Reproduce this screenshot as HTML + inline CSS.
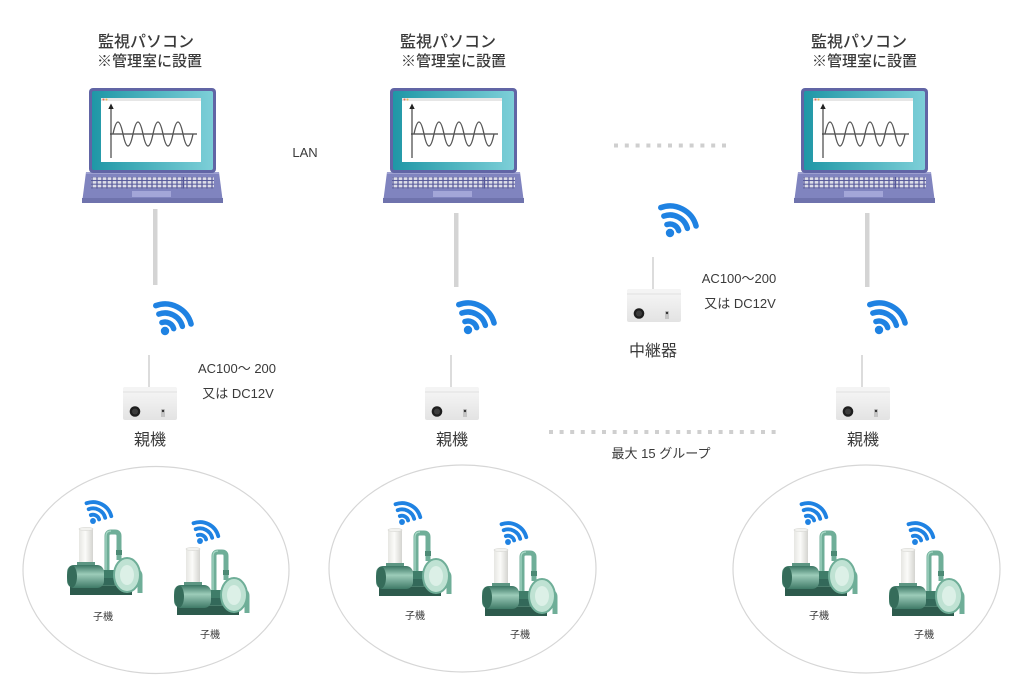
<!DOCTYPE html>
<html><head><meta charset="utf-8"><style>
html,body{margin:0;padding:0;background:#fff;}
svg{display:block;}
text{font-family:"Liberation Sans","Noto Sans CJK JP",sans-serif;fill:#3a3a3a;}
</style></head><body>
<svg width="1024" height="683" viewBox="0 0 1024 683" xmlns="http://www.w3.org/2000/svg">
<defs>
  <linearGradient id="teal" x1="0" y1="0" x2="1" y2="0">
    <stop offset="0" stop-color="#1f97a6"/><stop offset="1" stop-color="#7dcfd8"/>
  </linearGradient>
  <linearGradient id="cyl" x1="0" y1="0" x2="1" y2="0">
    <stop offset="0" stop-color="#e6e6e2"/><stop offset="0.45" stop-color="#fbfbf9"/><stop offset="1" stop-color="#d4d4d0"/>
  </linearGradient>
  <linearGradient id="motor" x1="0" y1="0" x2="0" y2="1">
    <stop offset="0" stop-color="#3a7563"/><stop offset="0.4" stop-color="#9cccb9"/><stop offset="1" stop-color="#3f7a67"/>
  </linearGradient>
  <linearGradient id="box" x1="0" y1="0" x2="0" y2="1">
    <stop offset="0" stop-color="#f7f7f7"/><stop offset="1" stop-color="#e3e3e3"/>
  </linearGradient>
  <pattern id="keys" x="0" y="0" width="5" height="3.7" patternUnits="userSpaceOnUse">
    <rect x="0.6" y="0.5" width="3.8" height="2.7" fill="#dcdde8"/>
  </pattern>

  <g id="wifi" fill="none" stroke="#1f82e2" stroke-width="5.5" stroke-linecap="round">
    <path d="M-3.08 -8.46 A9 9 0 0 1 8.69 -2.33"/>
    <path d="M-6.16 -16.91 A18 18 0 0 1 17.39 -4.66"/>
    <path d="M-9.23 -25.37 A27 27 0 0 1 26.08 -6.99"/>
    <circle cx="0" cy="0" r="4.2" fill="#1f82e2" stroke="none"/>
  </g>

  <g id="laptop">
    <polygon points="4,84 137,84 141,115 0,115" fill="#8084bf"/>
    <rect x="0" y="110" width="141" height="5" fill="#6f73ad"/>
    <rect x="4" y="84" width="133" height="2" fill="#9da0d0"/>
    <rect x="9" y="89" width="123" height="11.5" fill="#55589a"/>
    <rect x="9" y="89" width="123" height="11.5" fill="url(#keys)"/>
    <rect x="101" y="89" width="1.2" height="11.5" fill="#55589a"/>
    <rect x="50" y="103" width="39" height="6" fill="#a3a6d8"/>
    <rect x="7" y="0" width="127" height="85" rx="4" fill="#6165a5"/>
    <rect x="10" y="3" width="121" height="79" rx="2" fill="url(#teal)"/>
    <rect x="19" y="10" width="100" height="64" fill="#ffffff"/>
    <rect x="19" y="10" width="100" height="3" fill="#e6e6e6"/>
    <circle cx="21.5" cy="11.5" r="1" fill="#e86a5a"/>
    <circle cx="24.5" cy="11.5" r="1" fill="#f0b64a"/>
    <line x1="29" y1="20" x2="29" y2="70" stroke="#444" stroke-width="1.2"/>
    <polygon points="29,15.5 26.3,21 31.7,21" fill="#222"/>
    <line x1="28" y1="46" x2="115" y2="46" stroke="#444" stroke-width="1.2"/>
    <path d="M31 46 q5 -24 10 0 t10 0 t10 0 t10 0 t10 0 t10 0 t10 0 t10 0" fill="none" stroke="#555" stroke-width="1.3"/>
  </g>

  <g id="dev">
    <line x1="26" y1="-32" x2="26" y2="0" stroke="#dcdcdc" stroke-width="2"/>
    <rect x="0" y="0" width="54" height="33" rx="2" fill="url(#box)"/>
    <rect x="0" y="0" width="54" height="5" rx="2" fill="#f4f4f4"/>
    <line x1="0" y1="5" x2="54" y2="5" stroke="#e0e0e0" stroke-width="1"/>
    <circle cx="12" cy="24.5" r="5.3" fill="#1e1e1e"/>
    <circle cx="12" cy="24.5" r="3" fill="#3c3c3c"/>
    <rect x="38" y="22" width="4" height="8" fill="#c4c4c4"/>
    <circle cx="40" cy="24" r="1.2" fill="#333"/>
  </g>

  <g id="pump">
    <rect x="-8" y="56" width="62" height="11" fill="#2d5b4d"/>
    <rect x="-6" y="54" width="58" height="4" fill="#4a7d6c"/>
    <rect x="22" y="42" width="14" height="15" fill="#33695a"/>
    <path d="M29 44 V8 Q29 4 33 4 H37 Q41 4 41 8 V32" fill="none" stroke="#6fae98" stroke-width="5"/>
    <path d="M28 44 V8 Q28 3 33 3" fill="none" stroke="#a8d8c6" stroke-width="1.2"/>
    <rect x="38" y="22" width="6" height="5" fill="#4d8a75"/>
    <path d="M62 65 V48 Q62 43 57 43 H54" fill="none" stroke="#6fae98" stroke-width="5"/>
    <rect x="24" y="42" width="16" height="8" fill="#3f7d69"/>
    <ellipse cx="49" cy="47" rx="13" ry="17" fill="#bfe2d3" stroke="#6fae98" stroke-width="2"/>
    <ellipse cx="49" cy="47" rx="7" ry="10" fill="#dcf0e7"/>
    <rect x="1" y="0" width="14" height="38" fill="url(#cyl)"/>
    <ellipse cx="8" cy="1" rx="7" ry="1.6" fill="#f2f2ef" stroke="#d8d8d4" stroke-width="0.6"/>
    <rect x="-1" y="34" width="18" height="6" fill="#5d9683"/>
    <rect x="-11" y="37" width="37" height="23" rx="7" fill="url(#motor)"/>
    <ellipse cx="-6" cy="48.5" rx="5" ry="11" fill="#356c5a"/>
    <use href="#wifi" transform="translate(15,-7) scale(0.7)"/>
  </g>
</defs>

<!-- titles -->
<text x="98" y="47" font-size="16" font-weight="500">監視パソコン</text>
<text x="97" y="66" font-size="15" font-weight="500">※管理室に設置</text>
<text x="400" y="47" font-size="16" font-weight="500">監視パソコン</text>
<text x="401" y="66" font-size="15" font-weight="500">※管理室に設置</text>
<text x="811" y="47" font-size="16" font-weight="500">監視パソコン</text>
<text x="812" y="66" font-size="15" font-weight="500">※管理室に設置</text>

<!-- laptops -->
<use href="#laptop" transform="translate(82,88)"/>
<use href="#laptop" transform="translate(383,88)"/>
<use href="#laptop" transform="translate(794,88)"/>

<text x="305" y="157" font-size="13" text-anchor="middle">LAN</text>

<!-- dotted lines -->
<line x1="614" y1="145.5" x2="726" y2="145.5" stroke="#cfcfcf" stroke-width="4" stroke-dasharray="4 6.8"/>
<line x1="549" y1="432" x2="776" y2="432" stroke="#cfcfcf" stroke-width="4" stroke-dasharray="4 6.6"/>

<!-- vertical lines -->
<rect x="153" y="209" width="4.5" height="76" fill="#d4d4d4"/>
<rect x="454" y="213" width="4.5" height="74" fill="#d4d4d4"/>
<rect x="865" y="213" width="4.5" height="74" fill="#d4d4d4"/>

<!-- wifi -->
<use href="#wifi" transform="translate(165,331)"/>
<use href="#wifi" transform="translate(468,330)"/>
<use href="#wifi" transform="translate(879,330)"/>
<use href="#wifi" transform="translate(670,233)"/>

<!-- devices -->
<use href="#dev" transform="translate(123,387)"/>
<use href="#dev" transform="translate(425,387)"/>
<use href="#dev" transform="translate(836,387)"/>
<use href="#dev" transform="translate(627,289)"/>

<text x="150" y="445" font-size="16" text-anchor="middle">親機</text>
<text x="452" y="445" font-size="16" text-anchor="middle">親機</text>
<text x="863" y="445" font-size="16" text-anchor="middle">親機</text>
<text x="653" y="356" font-size="16" text-anchor="middle">中継器</text>

<text x="237" y="373" font-size="13" text-anchor="middle">AC100〜 200</text>
<text x="238" y="398" font-size="13" text-anchor="middle">又は DC12V</text>
<text x="739" y="283" font-size="13" text-anchor="middle">AC100〜200</text>
<text x="740" y="308" font-size="13" text-anchor="middle">又は DC12V</text>

<text x="661" y="458" font-size="13" text-anchor="middle">最大 15 グループ</text>

<!-- ellipses -->
<ellipse cx="156" cy="570" rx="133" ry="103.5" fill="none" stroke="#d6d6d6" stroke-width="1.2"/>
<ellipse cx="462.5" cy="568.5" rx="133.5" ry="103.5" fill="none" stroke="#d6d6d6" stroke-width="1.2"/>
<ellipse cx="866.5" cy="569" rx="133.5" ry="104" fill="none" stroke="#d6d6d6" stroke-width="1.2"/>

<!-- pumps -->
<use href="#pump" transform="translate(78,528)"/>
<use href="#pump" transform="translate(185,548)"/>
<use href="#pump" transform="translate(387,529)"/>
<use href="#pump" transform="translate(493,549)"/>
<use href="#pump" transform="translate(793,529)"/>
<use href="#pump" transform="translate(900,549)"/>

<text x="103" y="620" font-size="10" text-anchor="middle">子機</text>
<text x="210" y="638" font-size="10" text-anchor="middle">子機</text>
<text x="415" y="619" font-size="10" text-anchor="middle">子機</text>
<text x="520" y="638" font-size="10" text-anchor="middle">子機</text>
<text x="819" y="619" font-size="10" text-anchor="middle">子機</text>
<text x="924" y="638" font-size="10" text-anchor="middle">子機</text>
</svg>
</body></html>
